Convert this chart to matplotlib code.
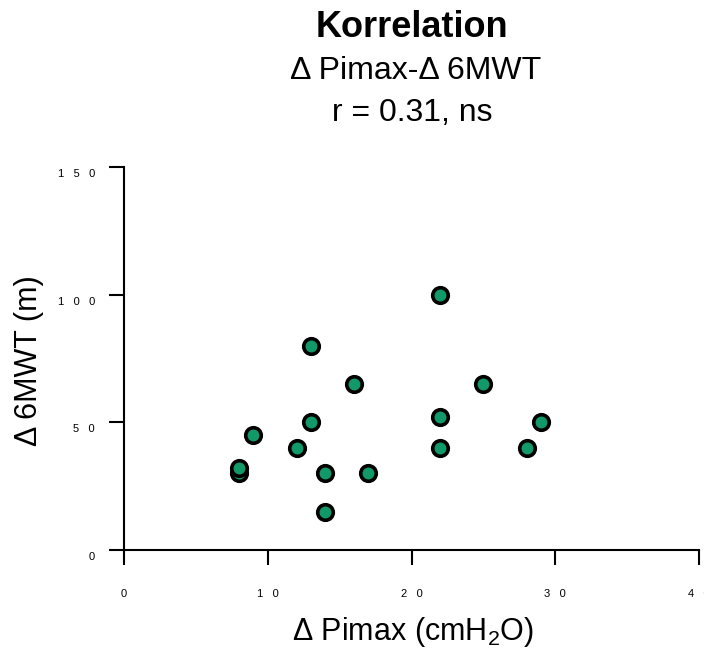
import matplotlib.pyplot as plt
from matplotlib.transforms import ScaledTranslation

plt.rcParams['font.family'] = ['Liberation Sans', 'DejaVu Sans']

# Data
delta_pimax = [22, 13, 16, 25, 22, 29, 13, 9, 12, 22, 28, 14, 17, 14, 8, 8]
delta_6mwt = [100, 80, 65, 65, 52, 50, 50, 45, 40, 40, 40, 30, 30, 15, 30, 32]

xticks = [0, 10, 20, 30, 40]
yticks = [0, 50, 100, 150]


def spaced(v):
    return "   ".join(str(v))


W, H = 704, 650
fig = plt.figure(figsize=(W / 100, H / 100), dpi=100)
ax = fig.add_axes([124 / W, 1 - 550 / H, 575 / W, 383 / H])

ax.plot(delta_pimax, delta_6mwt, 'o', ms=11.2, mfc='#11996A', mec='black',
        mew=2.6, clip_on=False, zorder=3)

ax.set_xlim(0, 40)
ax.set_ylim(0, 150)
ax.set_xticks(xticks)
ax.set_xticklabels([spaced(v) for v in xticks])
ax.set_yticks(yticks)
ax.set_yticklabels([spaced(v) for v in yticks])

for s in ['top', 'right']:
    ax.spines[s].set_visible(False)
for s in ['left', 'bottom']:
    ax.spines[s].set_linewidth(1.5)

ax.tick_params(axis='both', length=11, width=1.5, labelsize=8, color='black')
ax.tick_params(axis='x', pad=17)
ax.tick_params(axis='y', pad=10)
off = ScaledTranslation(0, -6 / 100, fig.dpi_scale_trans)
for lab in ax.get_yticklabels():
    lab.set_transform(lab.get_transform() + off)

# axis titles
fig.text(413 / W, 1 - 640 / H, r'Δ Pimax (cmH$_\mathregular{2}$O)', fontsize=22,
         ha='center', va='baseline')
fig.text(29 / W, 1 - 361 / H, 'Δ 6MWT (m)', fontsize=22, rotation=90,
         ha='center', va='center')

# heading
fig.text(412 / W, 1 - 37 / H, 'Korrelation', fontsize=26, fontweight='bold',
         ha='center', va='baseline')
fig.text(416 / W, 1 - 79 / H, 'Δ Pimax-Δ 6MWT', fontsize=23,
         ha='center', va='baseline')
fig.text(412 / W, 1 - 121 / H, 'r = 0.31, ns', fontsize=23,
         ha='center', va='baseline')

fig.savefig('out.png', dpi=100)
